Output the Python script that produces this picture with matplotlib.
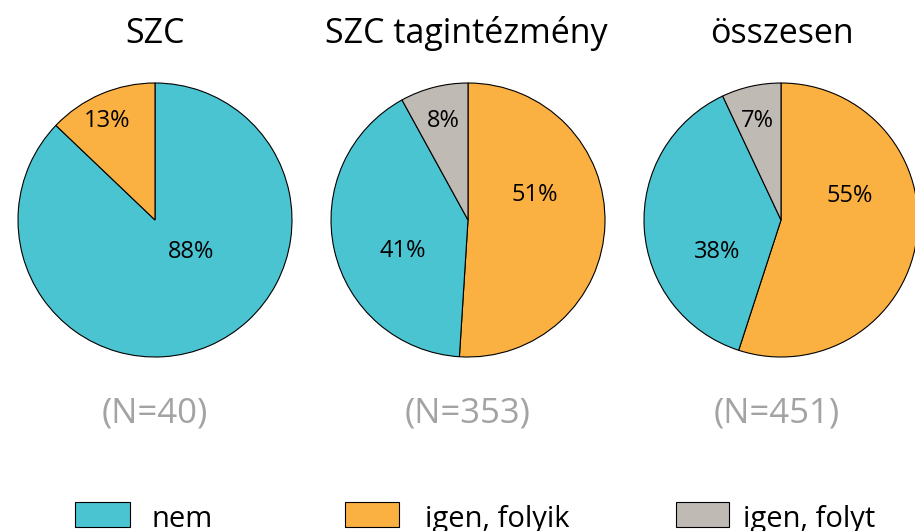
import matplotlib.pyplot as plt
from matplotlib.patches import Rectangle

plt.rcParams['font.family'] = ['Open Sans', 'DejaVu Sans']

# data
groups = ['SZC', 'SZC tagintézmény', 'összesen']
n_values = [40, 353, 451]
categories = ['nem', 'igen, folyik', 'igen, folyt']
nem = [88, 41, 38]
folyik = [13, 51, 55]
folyt = [0, 8, 7]

colors = {'nem': '#4AC4D1', 'igen, folyik': '#FBB042', 'igen, folyt': '#BFBAB4'}

# layout (pixels)
W, H = 915, 531
R = 137
centers_x = [155, 468, 781]
center_y = 220
# percent label positions in units of the radius, per pie, per category
label_pos = [
    {'nem': (0.26, -0.23), 'igen, folyik': (-0.347, 0.719)},
    {'nem': (-0.474, -0.226), 'igen, folyik': (0.489, 0.182), 'igen, folyt': (-0.179, 0.719)},
    {'nem': (-0.464, -0.234), 'igen, folyik': (0.50, 0.172), 'igen, folyt': (-0.172, 0.719)},
]

fig = plt.figure(figsize=(W / 100, H / 100), dpi=100)

for i, cx in enumerate(centers_x):
    ax = fig.add_axes([(cx - R) / W, (H - center_y - R) / H, 2 * R / W, 2 * R / H])
    vals = {'nem': nem[i], 'igen, folyik': folyik[i], 'igen, folyt': folyt[i]}
    # first pie has no "folyt" slice and starts with "nem"
    if folyt[i] == 0:
        order = ['nem', 'igen, folyik']
    else:
        order = ['igen, folyik', 'nem', 'igen, folyt']
    ax.pie([vals[c] for c in order], colors=[colors[c] for c in order],
           startangle=90, counterclock=False, radius=1,
           wedgeprops={'edgecolor': 'black', 'linewidth': 0.8})
    for c in order:
        x, y = label_pos[i][c]
        ax.text(x, y, f'{vals[c]}%', ha='center', va='center', fontsize=17)
    ax.set_xlim(-1, 1)
    ax.set_ylim(-1, 1)
    ax.set_aspect('equal')
    ax.axis('off')

# overlay in pixel coords for titles, N and legend
ov = fig.add_axes([0, 0, 1, 1])
ov.set_xlim(0, W)
ov.set_ylim(H, 0)
ov.axis('off')

title_x = [155, 466, 782]
n_x = [155, 468, 777]
for i in range(3):
    ov.text(title_x[i], 43, groups[i], ha='center', va='baseline', fontsize=24.5)
    ov.text(n_x[i], 422, f'(N={n_values[i]})', ha='center', va='baseline',
            fontsize=25, color='#a3a3a3')

patch_x = [75, 345, 676]
patch_w = [55, 54, 53]
text_x = [151, 425, 743]
for i, c in enumerate(categories):
    ov.add_patch(Rectangle((patch_x[i], 502), patch_w[i], 25, facecolor=colors[c],
                           edgecolor='black', linewidth=0.8))
    ov.text(text_x[i], 527, c, ha='left', va='baseline', fontsize=21)

plt.savefig('out.png', dpi=100)
plt.close()
